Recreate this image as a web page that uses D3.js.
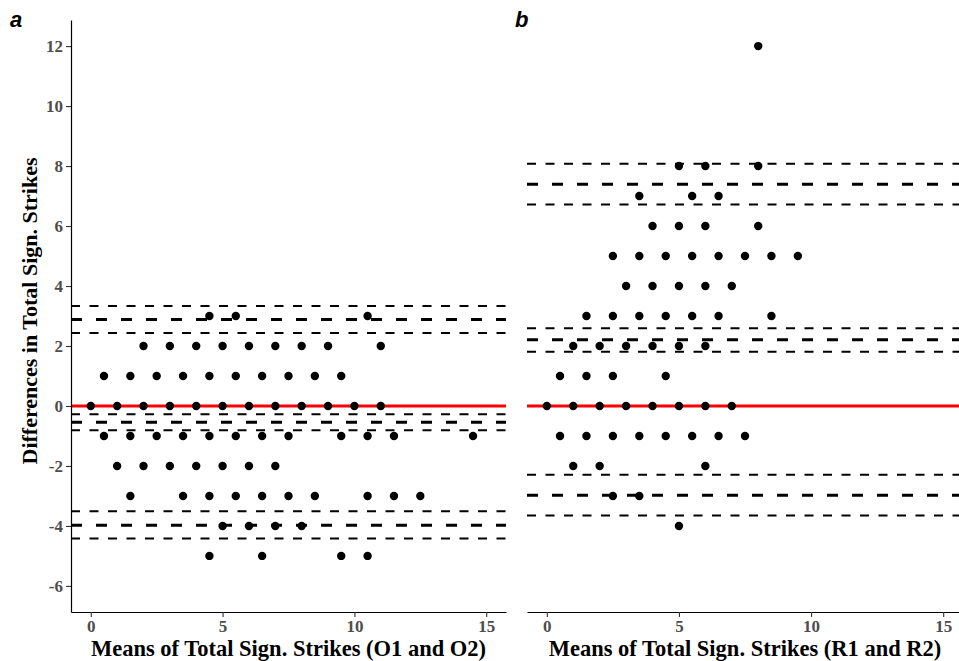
<!DOCTYPE html>
<html>
<head>
<meta charset="utf-8">
<script src="https://cdn.jsdelivr.net/npm/d3@7"></script>
<style>
  body { margin: 0; background: #fff; }
  svg { display: block; }
</style>
</head>
<body>
<svg width="959" height="661"></svg>
<script>
// ---- data ----
// panel a: observers O1 / O2 ; one row of means per difference value
var diffRowsA = [3, 2, 1, 0, -1, -2, -3, -4, -5];
var meanRowsA = [
  [4.5, 5.5, 10.5],
  [2, 3, 4, 5, 6, 7, 8, 9, 11],
  [0.5, 1.5, 2.5, 3.5, 4.5, 5.5, 6.5, 7.5, 8.5, 9.5],
  [0, 1, 2, 3, 4, 5, 6, 7, 8, 9, 10, 11],
  [0.5, 1.5, 2.5, 3.5, 4.5, 5.5, 6.5, 7.5, 9.5, 10.5, 11.5, 14.5],
  [1, 2, 3, 4, 5, 6, 7],
  [1.5, 3.5, 4.5, 5.5, 6.5, 7.5, 8.5, 10.5, 11.5, 12.5],
  [5, 6, 7, 8],
  [4.5, 6.5, 9.5, 10.5]
];
// panel b: raters R1 / R2
var diffRowsB = [12, 8, 7, 6, 5, 4, 3, 2, 1, 0, -1, -2, -3, -4];
var meanRowsB = [
  [8],
  [5, 6, 8],
  [3.5, 5.5, 6.5],
  [4, 5, 6, 8],
  [2.5, 3.5, 4.5, 5.5, 6.5, 7.5, 8.5, 9.5],
  [3, 4, 5, 6, 7],
  [1.5, 2.5, 3.5, 4.5, 5.5, 6.5, 8.5],
  [1, 2, 3, 4, 5, 6],
  [0.5, 1.5, 2.5, 4.5],
  [0, 1, 2, 3, 4, 5, 6, 7],
  [0.5, 1.5, 2.5, 3.5, 4.5, 5.5, 6.5, 7.5],
  [1, 2, 6],
  [2.5, 3.5],
  [5]
];
// limits: [lower CI, estimate, upper CI]
var upperA = [2.43, 2.88, 3.33];
var biasA  = [-0.81, -0.54, -0.28];
var lowerA = [-4.42, -3.98, -3.51];
var upperB = [6.72, 7.39, 8.08];
var biasB  = [1.81, 2.21, 2.59];
var lowerB = [-3.65, -2.98, -2.29];

var xTicks = [0, 5, 10, 15];
var yTicks = [-6, -4, -2, 0, 2, 4, 6, 8, 10, 12];

var svg = d3.select("svg");
var plotTop = 20, plotBottom = 612;

var y = d3.scaleLinear().domain([-6.87, 12.87]).range([plotBottom, plotTop]);

// plain hyphen for negatives, like the original
var plain = function(d) { return String(d); };

function toPoints(diffRows, meanRows) {
  var pts = [];
  diffRows.forEach(function(d, i) {
    meanRows[i].forEach(function(m) { pts.push({mean: m, diff: d}); });
  });
  return pts;
}

function drawPanel(opt) {
  var x = d3.scaleLinear().domain([-0.75, 15.75]).range([opt.left, opt.right]);
  var g = svg.append("g");

  // reference lines (LoA / bias with their CIs)
  [opt.upper, opt.bias, opt.lower].forEach(function(lim) {
    lim.forEach(function(v, i) {
      var main = (i == 1);
      g.append("line")
        .attr("x1", opt.left).attr("x2", opt.right)
        .attr("y1", y(v)).attr("y2", y(v))
        .attr("stroke", "#000")
        .attr("stroke-width", main ? 3 : 2)
        .attr("stroke-dasharray", main ? "11,14" : "9,9.5");
    });
  });

  g.append("line")
    .attr("x1", opt.left).attr("x2", opt.right)
    .attr("y1", y(0)).attr("y2", y(0))
    .attr("stroke", "#ff0000")
    .attr("stroke-width", 3);

  g.selectAll(".pt")
    .data(toPoints(opt.diffRows, opt.meanRows))
    .enter().append("circle")
      .attr("class", "pt")
      .attr("cx", function(d) { return x(d.mean); })
      .attr("cy", function(d) { return y(d.diff); })
      .attr("r", 4.2)
      .attr("fill", "#000");

  // x axis
  var xAxis = g.append("g")
    .attr("transform", "translate(0," + plotBottom + ")")
    .call(d3.axisBottom(x).tickValues(xTicks).tickFormat(plain)
      .tickSize(5).tickPadding(3).tickSizeOuter(0));
  xAxis.select(".domain").attr("stroke", "#000").attr("stroke-width", 1.2);
  xAxis.selectAll(".tick line").attr("stroke", "#333").attr("stroke-width", 1.1);
  xAxis.selectAll("text")
    .attr("fill", "#4d4d4d")
    .style("font", "bold 17px 'Liberation Serif', serif");

  if (opt.yAxis) {
    var yAxis = g.append("g")
      .attr("transform", "translate(" + opt.left + ",0)")
      .call(d3.axisLeft(y).tickValues(yTicks).tickFormat(plain)
        .tickSize(5).tickPadding(3).tickSizeOuter(0));
    yAxis.select(".domain").attr("stroke", "#000").attr("stroke-width", 1.2);
    yAxis.selectAll(".tick line").attr("stroke", "#333").attr("stroke-width", 1.1);
    yAxis.selectAll("text")
      .attr("fill", "#4d4d4d")
      .style("font", "bold 17px 'Liberation Serif', serif");

    g.append("text")
      .attr("transform", "translate(37,311) rotate(-90)")
      .attr("text-anchor", "middle")
      .style("font", "bold 22px 'Liberation Serif', serif")
      .text("Differences in Total Sign. Strikes");
  }

  g.append("text")
    .attr("x", (opt.left + opt.right) / 2)
    .attr("y", 656)
    .attr("text-anchor", "middle")
    .style("font", "bold 22.5px 'Liberation Serif', serif")
    .text(opt.xTitle);

  g.append("text")
    .attr("x", opt.tagX)
    .attr("y", 27)
    .style("font", "italic bold 22px 'Liberation Sans', Arial, sans-serif")
    .text(opt.tag);
}

drawPanel({
  left: 71, right: 506, yAxis: true, tag: "a", tagX: 10,
  diffRows: diffRowsA, meanRows: meanRowsA,
  upper: upperA, bias: biasA, lower: lowerA,
  xTitle: "Means of Total Sign. Strikes (O1 and O2)"
});

drawPanel({
  left: 527, right: 963, yAxis: false, tag: "b", tagX: 515,
  diffRows: diffRowsB, meanRows: meanRowsB,
  upper: upperB, bias: biasB, lower: lowerB,
  xTitle: "Means of Total Sign. Strikes (R1 and R2)"
});
</script>
</body>
</html>
